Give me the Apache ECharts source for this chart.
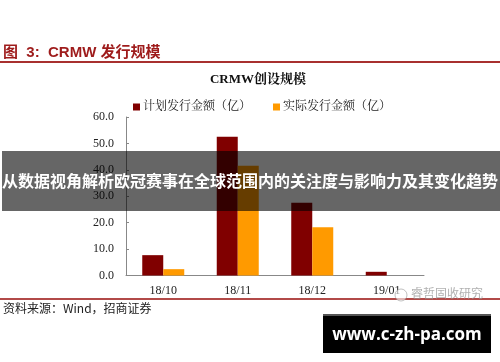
<!DOCTYPE html>
<html><head><meta charset="utf-8">
<script src="https://cdn.jsdelivr.net/npm/echarts@6/dist/echarts.min.js"></script>
<style>html,body{margin:0;padding:0;background:#fff}#c{width:500px;height:362px}</style>
</head><body><div id="c"></div>
<script>
const categories = ['18/10', '18/11', '18/12', '19/01'];
const plannedValues = [7.7, 52.5, 27.5, 1.4];
const actualValues = [2.4, 41.5, 18.3, 0];
const yTicks = [0, 10, 20, 30, 40, 50, 60];
const seriesNames = ['计划发行金额（亿）', '实际发行金额（亿）'];

const serif = '"Liberation Serif","Noto Serif CJK SC","Noto Sans CJK SC",serif';
const chart = echarts.init(document.getElementById('c'), null, {renderer: 'canvas'});
chart.setOption({
  animation: false,
  backgroundColor: '#fff',
  title: {
    text: 'CRMW创设规模', left: 258, top: 73, textAlign: 'center', padding: 0,
    textStyle: {fontFamily: serif, fontWeight: 'bold', fontSize: 13, color: '#111'}
  },
  legend: {
    data: seriesNames, left: 133, top: 101, padding: 0, itemWidth: 7, itemHeight: 7, itemGap: 22,
    icon: 'rect',
    textStyle: {fontFamily: serif, fontSize: 12, color: '#222', padding: [0, 0, 0, -2]}
  },
  grid: {left: 126, right: 76, top: 117, bottom: 86.5, containLabel: false},
  xAxis: {
    type: 'category', data: categories,
    axisLine: {lineStyle: {color: '#888', width: 1}},
    axisTick: {inside: true, length: 3, lineStyle: {color: '#888'}},
    axisLabel: {fontFamily: serif, fontSize: 12, color: '#222', margin: 9}
  },
  yAxis: {
    type: 'value', min: yTicks[0], max: yTicks[yTicks.length - 1], interval: 10,
    splitLine: {show: false},
    axisLine: {show: true, lineStyle: {color: '#888', width: 1}},
    axisTick: {show: true, inside: true, length: 3, lineStyle: {color: '#888'}},
    axisLabel: {fontFamily: serif, fontSize: 12, color: '#222', margin: 12,
      formatter: v => v.toFixed(1)}
  },
  series: [
    {name: seriesNames[0], type: 'bar', data: plannedValues, barWidth: 21, barGap: '0%',
     itemStyle: {color: '#800000'}},
    {name: seriesNames[1], type: 'bar', data: actualValues, barWidth: 21,
     itemStyle: {color: '#FF9A00'}}
  ],
  graphic: [
    {type: 'text', left: 3, top: 45, z: 10,
     style: {text: '图  3:  CRMW 发行规模', fill: '#9e1b1b',
       font: 'bold 15px "Liberation Sans","Noto Sans CJK SC",sans-serif'}},
    {type: 'rect', shape: {x: 0, y: 61, width: 500, height: 2}, style: {fill: '#a8302f'}, z: 10},
    {type: 'rect', shape: {x: 0, y: 298, width: 500, height: 2}, style: {fill: '#b24a48'}, z: 10},
    {type: 'text', left: 3, top: 302, z: 10,
     style: {text: '资料来源：Wind，招商证券', fill: '#222',
       font: '12px "Noto Sans CJK SC","Liberation Sans",sans-serif'}},
    {type: 'circle', shape: {cx: 401, cy: 295, r: 6}, style: {fill: 'rgba(255,255,255,0.6)', stroke: 'rgba(150,150,150,0.6)', lineWidth: 1}, z: 20},
    {type: 'text', left: 411, top: 287, z: 20,
     style: {text: '睿哲固收研究', fill: 'rgba(150,150,150,0.75)',
       font: '12px "Noto Sans CJK SC",sans-serif'}},
    {type: 'rect', shape: {x: 2, y: 151, width: 498, height: 60}, style: {fill: 'rgba(0,0,0,0.6)'}, z: 100},
    {type: 'text', x: 250, y: 181, z: 101,
     style: {text: '从数据视角解析欧冠赛事在全球范围内的关注度与影响力及其变化趋势', fill: '#fff',
       align: 'center', verticalAlign: 'middle',
       font: 'bold 16px "Noto Sans CJK SC",sans-serif'}},
    {type: 'rect', shape: {x: 323, y: 314, width: 168, height: 39}, style: {fill: '#000'}, z: 100},
    {type: 'rect', shape: {x: 323, y: 314, width: 168, height: 2}, style: {fill: '#555'}, z: 101},
    {type: 'text', x: 407, y: 335, z: 101,
     style: {text: 'www.c-zh-pa.com', fill: '#fff', align: 'center', verticalAlign: 'middle',
       font: 'bold 17px "Open Sans","DejaVu Sans",sans-serif'}}
  ]
});
</script></body></html>
